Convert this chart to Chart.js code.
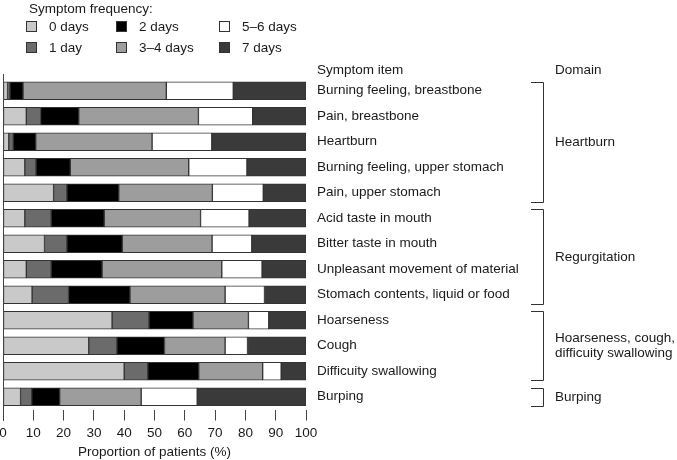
<!DOCTYPE html>
<html>
<head>
<meta charset="utf-8">
<script src="https://cdn.jsdelivr.net/npm/chart.js@4"></script>
<style>
  body { margin: 0; background: #fff; }
  #wrap { width: 677px; height: 460px; }
</style>
</head>
<body>
<div id="wrap"><canvas id="symptomchart" width="677" height="460"></canvas></div>
<script>
// symptom items, top to bottom
const items = [
  'Burning feeling, breastbone',
  'Pain, breastbone',
  'Heartburn',
  'Burning feeling, upper stomach',
  'Pain, upper stomach',
  'Acid taste in mouth',
  'Bitter taste in mouth',
  'Unpleasant movement of material',
  'Stomach contents, liquid or food',
  'Hoarseness',
  'Cough',
  'Difficuity swallowing',
  'Burping'
];

// proportion of patients (%) per frequency
const days0  = [1.5, 7.7, 1.9, 7.2, 16.7, 7.2, 13.7, 7.7, 9.6, 36.0, 28.3, 40.0, 5.8];
const day1   = [0.8, 4.7, 1.5, 3.7, 4.4, 8.7, 7.4, 8.2, 12.0, 12.2, 9.3, 7.8, 3.7];
const days2  = [4.3, 12.6, 7.4, 11.3, 17.1, 17.5, 18.3, 16.8, 20.3, 14.5, 15.7, 16.8, 9.2];
const days34 = [47.3, 39.5, 38.4, 39.1, 30.9, 31.8, 29.6, 39.5, 31.4, 18.3, 20.0, 21.1, 26.9];
const days56 = [22.1, 17.9, 19.7, 19.2, 16.8, 16.0, 13.1, 13.3, 13.0, 6.7, 7.4, 6.1, 18.5];
const days7  = [24.0, 17.6, 31.1, 19.5, 14.1, 18.8, 17.9, 14.5, 13.7, 12.3, 19.3, 8.2, 35.9];

const freqLabels = ['0 days', '1 day', '2 days', '3\u20134 days', '5\u20136 days', '7 days'];
const freqColors = ['#c9c9c9', '#6b6b6b', '#000000', '#9d9d9d', '#ffffff', '#3a3a3a'];

// domains: name lines, first item index, last item index
const domainNames = [['Heartburn'], ['Regurgitation'], ['Hoarseness, cough,', 'difficuity swallowing'], ['Burping']];
const domainStart = [0, 5, 9, 12];
const domainEnd   = [4, 8, 11, 12];

const FONT = '"Liberation Sans", Arial, Helvetica, sans-serif';
const TXT = '#1a1a1a';

const extras = {
  id: 'extras',
  afterDraw(chart) {
    const ctx = chart.ctx;
    const area = chart.chartArea;
    const y = chart.scales.y;
    ctx.save();

    // left axis line
    ctx.strokeStyle = '#444';
    ctx.lineWidth = 1;
    ctx.beginPath();
    ctx.moveTo(area.left + 0.5, 74);
    ctx.lineTo(area.left + 0.5, 421);
    ctx.stroke();

    ctx.font = '13.5px ' + FONT;
    ctx.fillStyle = TXT;
    ctx.textBaseline = 'middle';
    ctx.textAlign = 'left';

    // legend
    ctx.fillText('Symptom frequency:', 29, 9);
    const colX = [26, 116, 219];
    const rowY = [27, 48];
    freqLabels.forEach((lab, i) => {
      const cx = colX[Math.floor(i / 2)];
      const cy = rowY[i % 2];
      ctx.fillStyle = freqColors[i];
      ctx.fillRect(cx + 0.5, cy - 5.5, 10, 10);
      ctx.strokeStyle = '#333';
      ctx.strokeRect(cx + 0.5, cy - 5.5, 10, 10);
      ctx.fillStyle = TXT;
      ctx.fillText(lab, cx + 23, cy);
    });

    // column headers
    ctx.fillText('Symptom item', 317, 70);
    ctx.fillText('Domain', 555, 70);

    // domain brackets
    ctx.strokeStyle = '#333';
    domainNames.forEach((name, d) => {
      const top = Math.round(y.getPixelForValue(domainStart[d]) - 9) + 0.5;
      const bot = Math.round(y.getPixelForValue(domainEnd[d]) + 9) + 0.5;
      ctx.beginPath();
      ctx.moveTo(531, top);
      ctx.lineTo(543.5, top);
      ctx.lineTo(543.5, bot);
      ctx.lineTo(531, bot);
      ctx.stroke();
      const mid = (top + bot) / 2;
      const lh = 15;
      name.forEach((line, k) => {
        ctx.fillText(line, 555, mid + (k - (name.length - 1) / 2) * lh);
      });
    });

    ctx.restore();
  }
};

const datasets = [days0, day1, days2, days34, days56, days7].map((vals, i) => ({
  label: freqLabels[i],
  data: vals,
  backgroundColor: freqColors[i],
  borderColor: '#333',
  borderWidth: 1,
  borderSkipped: false,
  barThickness: 18
}));

const ctx = document.getElementById('symptomchart').getContext('2d');
new Chart(ctx, {
  type: 'bar',
  data: { labels: items, datasets: datasets },
  options: {
    indexAxis: 'y',
    responsive: false,
    animation: false,
    layout: { padding: { top: 78, left: 3, right: 0, bottom: 0 } },
    plugins: {
      legend: { display: false },
      tooltip: { enabled: false },
      title: { display: false }
    },
    scales: {
      x: {
        stacked: true,
        min: 0,
        max: 100,
        border: { display: false },
        grid: { drawOnChartArea: false, tickLength: 11, color: '#444' },
        ticks: { stepSize: 10, color: TXT, padding: 5, maxRotation: 0, font: { family: FONT, size: 13.5 } },
        title: {
          display: true,
          text: 'Proportion of patients (%)',
          color: TXT,
          padding: { top: 0, bottom: 0 },
          font: { family: FONT, size: 13.5 }
        },
        afterFit: scale => { scale.height = 50.5; scale.paddingLeft = 0; }
      },
      y: {
        stacked: true,
        position: 'right',
        border: { display: false },
        grid: { display: false, drawTicks: false },
        ticks: { color: TXT, padding: 11, crossAlign: 'near', font: { family: FONT, size: 13.5 } },
        afterFit: scale => { scale.width = 371; }
      }
    }
  },
  plugins: [extras]
});
</script>
</body>
</html>
